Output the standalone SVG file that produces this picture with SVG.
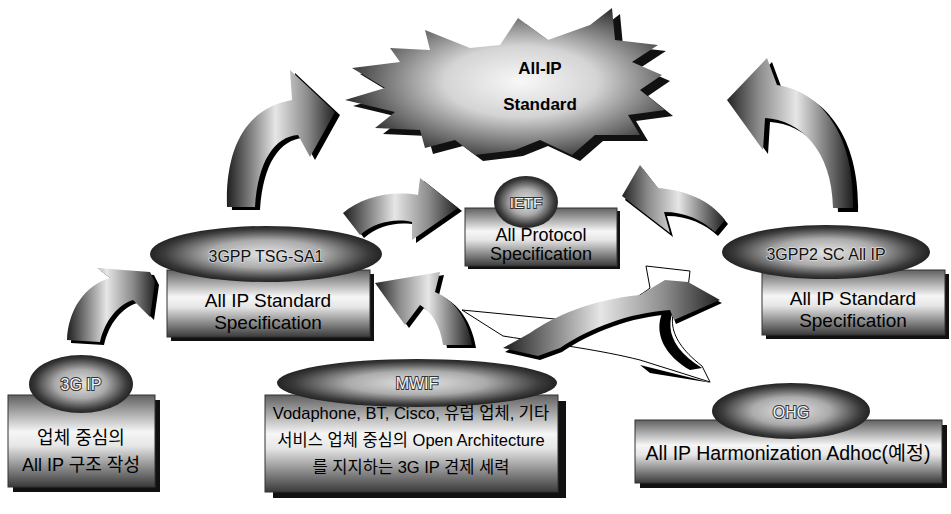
<svg xmlns="http://www.w3.org/2000/svg" width="951" height="514" viewBox="0 0 951 514">
<defs>
<radialGradient id="ellG" cx="50%" cy="50%" r="55%">
<stop offset="0" stop-color="#e4e4e4"/><stop offset="0.45" stop-color="#ababab"/><stop offset="0.8" stop-color="#3a3a3a"/><stop offset="1" stop-color="#111"/>
</radialGradient>
<linearGradient id="boxG" x1="0" y1="0" x2="0" y2="1">
<stop offset="0" stop-color="#606060"/><stop offset="0.4" stop-color="#f6f6f6"/><stop offset="0.55" stop-color="#e6e6e6"/><stop offset="1" stop-color="#3a3a3a"/>
</linearGradient>
<radialGradient id="starG" cx="55%" cy="50%" r="60%">
<stop offset="0" stop-color="#f8f8f8"/><stop offset="0.4" stop-color="#d4d4d4"/><stop offset="0.75" stop-color="#6a6a6a"/><stop offset="1" stop-color="#1a1a1a"/>
</radialGradient>
<linearGradient id="arrG" x1="0" y1="0" x2="1" y2="0">
<stop offset="0" stop-color="#1e1e1e"/><stop offset="0.45" stop-color="#e6e6e6"/><stop offset="0.75" stop-color="#8a8a8a"/><stop offset="1" stop-color="#222"/>
</linearGradient>
<linearGradient id="arrG2" x1="1" y1="0" x2="0" y2="0">
<stop offset="0" stop-color="#1e1e1e"/><stop offset="0.45" stop-color="#e6e6e6"/><stop offset="0.75" stop-color="#8a8a8a"/><stop offset="1" stop-color="#222"/>
</linearGradient>
</defs>
<style>
.shadow{fill:#111}
.box{fill:url(#boxG);stroke:#333;stroke-width:1}
.ell{fill:url(#ellG)}
.t{font-family:"Liberation Sans","Noto Sans CJK KR",sans-serif;fill:#000;text-anchor:middle;dominant-baseline:central}
.et{font-family:"Liberation Sans","Noto Sans CJK KR",sans-serif;fill:#f4f4f4;stroke:#333;stroke-width:2;paint-order:stroke;text-anchor:middle;dominant-baseline:central}
.dt{font-family:"Liberation Sans","Noto Sans CJK KR",sans-serif;fill:#111;stroke:#ddd;stroke-width:1.5;paint-order:stroke;text-anchor:middle;dominant-baseline:central}
.arr{fill:url(#arrG)}
.arrL{fill:url(#arrG2)}
.ash{fill:#000}
</style>

<g id="connectors">
  <path class="ash" d="M232,210 C230,153 250,111 297,103 L295,73 L340,115 L315,160 L303,138 C280,140 263,163 260,210 Z"/>
  <path class="arr" d="M227,207 C225,150 245,108 292,100 L290,70 L335,112 L310,157 L298,135 C275,137 258,160 255,207 Z"/>
  <path class="ash" d="M858,212 C860,144 830,96 782,89 L772,62 L732,104 L768,154 L770,122 C805,124 837,154 838,212 Z"/>
  <path class="arrL" d="M853,208 C855,140 825,92 777,85 L767,58 L727,100 L763,150 L765,118 C800,120 832,150 833,208 Z"/>
  <path class="ash" d="M347,216 C364,201 394,193 422,198 L424,181 L462,211 L416,243 L416,225 C399,221 379,225 364,238 Z"/>
  <path class="arr" d="M343,213 C360,198 390,190 418,195 L420,178 L458,208 L412,240 L412,222 C395,218 375,222 360,235 Z"/>
  <path class="ash" d="M728,224 C713,204 688,194 661,192 L643,169 L625,200 L673,237 L667,216 C688,216 705,224 718,236 Z"/>
  <path class="arrL" d="M725,220 C710,200 685,190 658,188 L640,165 L622,196 L670,233 L664,212 C685,212 702,220 715,232 Z"/>
  <path class="ash" d="M71,343 C72,313 89,288 114,281 L101,271 L154,275 L159,285 L154,320 L137,303 C122,308 109,323 104,345 Z"/>
  <path class="arr" d="M67,340 C68,310 85,285 110,278 L97,268 L150,272 L155,282 L150,317 L133,300 C118,305 105,320 100,342 Z"/>
  <path class="ash" d="M476,348 C472,323 459,303 439,295 L444,275 L379,286 L409,328 L424,308 C436,315 444,328 447,348 Z"/>
  <path class="arrL" d="M472,345 C468,320 455,300 435,292 L440,272 L375,283 L405,325 L420,305 C432,312 440,325 443,345 Z"/>
  <path d="M640,365 L712,383 L650,373 Z" fill="#000"/>
  <path d="M462,310 L565,320 C600,318 635,300 650,288 L646,266 L690,271 L688,288 C668,310 662,335 702,366 L710,382 L640,360 C600,350 560,345 503,336 Z" fill="#fff" stroke="#000" stroke-width="1"/>
  <path d="M690,288 C664,312 660,342 702,368 L690,370 C648,345 654,310 680,291 Z" fill="#000"/>
  <path d="M505,352 L532,336 C557,320 592,304 642,299 L667,284 L690,287 L722,303 L676,324 L672,314 C630,317 592,332 562,352 L540,360 Z" fill="#000"/>
  <path d="M503,348 L530,333 C555,316 590,300 640,295 L665,280 L688,282 L720,300 L674,320 L670,310 C628,313 590,328 560,348 L538,356 Z" fill="url(#arrG)"/>
</g>

<g id="standard">
  <polygon class="shadow" transform="translate(8,6)" points="425,30 470,48 500,45 518,18 548,40 590,25 612,8 615,40 658,45 632,62 662,75 640,90 665,110 628,115 640,135 595,135 572,155 540,140 515,150 475,155 455,140 425,148 420,130 375,128 395,112 345,100 385,88 352,68 400,62 390,48 430,50"/>
  <polygon fill="url(#starG)" points="425,30 470,48 500,45 518,18 548,40 590,25 612,8 615,40 658,45 632,62 662,75 640,90 665,110 628,115 640,135 595,135 572,155 540,140 515,150 475,155 455,140 425,148 420,130 375,128 395,112 345,100 385,88 352,68 400,62 390,48 430,50"/>
  <text class="t" x="540" y="68" font-size="17" font-weight="bold">All-IP</text>
  <text class="t" x="540" y="104" font-size="17" font-weight="bold">Standard</text>
</g>

<g id="n3gpp">
  <rect class="shadow" x="171" y="274" width="203" height="67"/>
  <rect class="box" x="167" y="270" width="203" height="67"/>
  <ellipse class="ell" cx="266" cy="254" rx="116" ry="28"/>
  <text class="dt" x="266" y="256" font-size="16">3GPP TSG-SA1</text>
  <text class="t" x="268" y="300" font-size="19">All IP Standard</text>
  <text class="t" x="268" y="322" font-size="19">Specification</text>
</g>

<g id="ietf">
  <rect class="shadow" x="468" y="211" width="152" height="58"/>
  <rect class="box" x="465" y="208" width="152" height="58"/>
  <ellipse class="ell" cx="526" cy="202" rx="32" ry="26"/>
  <text class="et" x="526" y="202" font-size="15">IETF</text>
  <text class="t" x="541" y="235" font-size="18">All Protocol</text>
  <text class="t" x="541" y="254" font-size="18">Specification</text>
</g>

<g id="n3gpp2">
  <rect class="shadow" x="766" y="274" width="183" height="65"/>
  <rect class="box" x="762" y="270" width="183" height="65"/>
  <ellipse class="ell" cx="826" cy="252" rx="104" ry="27"/>
  <text class="dt" x="826" y="254" font-size="16">3GPP2 SC All IP</text>
  <text class="t" x="853" y="298" font-size="19">All IP Standard</text>
  <text class="t" x="853" y="320" font-size="19">Specification</text>
</g>

<g id="n3gip">
  <rect class="shadow" x="13" y="400" width="147" height="92"/>
  <rect class="box" x="8" y="395" width="147" height="92"/>
  <ellipse class="ell" cx="81" cy="384" rx="52" ry="29"/>
  <text class="et" x="81" y="384" font-size="16">3G IP</text>
  <text class="t" x="81" y="438" font-size="18">업체 중심의</text>
  <text class="t" x="81" y="465" font-size="18">All IP 구조 작성</text>
</g>

<g id="mwif">
  <rect class="shadow" x="273" y="401" width="293" height="97"/>
  <rect class="box" x="265" y="395" width="293" height="97"/>
  <ellipse class="ell" cx="417" cy="383" rx="140" ry="24"/>
  <text class="et" x="417" y="383" font-size="16">MWIF</text>
  <text class="t" x="411" y="413" font-size="16.5">Vodaphone, BT, Cisco, 유럽 업체, 기타</text>
  <text class="t" x="411" y="440" font-size="16.5">서비스 업체 중심의 Open Architecture</text>
  <text class="t" x="411" y="467" font-size="16.5">를 지지하는 3G IP 견제 세력</text>
</g>

<g id="ohg">
  <rect class="shadow" x="640" y="425" width="307" height="63"/>
  <rect class="box" x="635" y="420" width="307" height="63"/>
  <ellipse class="ell" cx="791" cy="411" rx="79" ry="28"/>
  <text class="et" x="791" y="412" font-size="16">OHG</text>
  <text class="t" x="788" y="453" font-size="19.5">All IP Harmonization Adhoc(예정)</text>
</g>
</svg>
